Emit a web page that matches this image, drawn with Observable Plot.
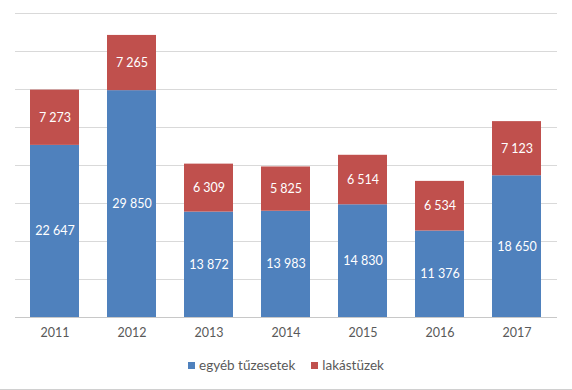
<!DOCTYPE html>
<html>
<head>
<meta charset="utf-8">
<script src="https://cdn.jsdelivr.net/npm/d3@7"></script>
<script src="https://cdn.jsdelivr.net/npm/@observablehq/plot@0.6"></script>
<style>
  html, body { margin: 0; padding: 0; background: #fff; }
  #wrap { width: 572px; height: 389px; border-bottom: 1px solid #d0d0d0; position: relative; overflow: hidden; font-family: Lato, "Open Sans", sans-serif; }
  #legend { position: absolute; top: 357px; left: 0; width: 572px; display: flex; justify-content: center; gap: 16px; font-size: 13.5px; color: #595959; }
  #legend span.item { display: inline-flex; align-items: center; }
  #legend span.sw { display: inline-block; width: 7px; height: 7px; margin-right: 4px; }
</style>
</head>
<body>
<div id="wrap">
  <div id="chart"></div>
  <div id="legend"></div>
</div>
<script>
const years = ["2011", "2012", "2013", "2014", "2015", "2016", "2017"];
const seriesNames = ["egyéb tűzesetek", "lakástüzek"];
const egyeb = [22647, 29850, 13872, 13983, 14830, 11376, 18650];
const lakas = [7273, 7265, 6309, 5825, 6514, 6534, 7123];
const colors = ["#4F81BD", "#C0504D"];
const yTicks = [0, 5000, 10000, 15000, 20000, 25000, 30000, 35000, 40000];

const data = [];
years.forEach((y, i) => {
  data.push({year: y, series: seriesNames[0], value: egyeb[i]});
  data.push({year: y, series: seriesNames[1], value: lakas[i]});
});

const fmt = v => d3.format(",")(v).replace(/,/g, " ");

const chart = Plot.plot({
  width: 572,
  height: 350,
  marginTop: 13,
  marginBottom: 33,
  marginLeft: 15,
  marginRight: 15,
  style: { fontFamily: "Lato, 'Open Sans', sans-serif", background: "white" },
  x: { domain: years, paddingInner: 0.36, paddingOuter: 0.18, axis: null },
  y: { domain: [0, 40000], axis: null },
  color: { domain: seriesNames, range: colors },
  marks: [
    Plot.ruleY(yTicks, { stroke: "#d9d9d9", strokeWidth: 1 }),
    Plot.barY(data, { x: "year", y: "value", fill: "series", order: seriesNames }),
    Plot.ruleY([0], { stroke: "#c8c8c8", strokeWidth: 1 }),
    Plot.text(data, Plot.stackY({ x: "year", y: "value", z: "series", order: seriesNames, text: d => fmt(d.value), fill: "white", fontSize: 12.5 })),
    Plot.axisX({ tickSize: 0, tickPadding: 11, fontSize: 12.5, color: "#595959", label: null })
  ]
});
document.getElementById("chart").appendChild(chart);

const legend = document.getElementById("legend");
seriesNames.forEach((n, i) => {
  const item = document.createElement("span");
  item.className = "item";
  const sw = document.createElement("span");
  sw.className = "sw";
  sw.style.background = colors[i];
  item.appendChild(sw);
  item.appendChild(document.createTextNode(n));
  legend.appendChild(item);
});
</script>
</body>
</html>
